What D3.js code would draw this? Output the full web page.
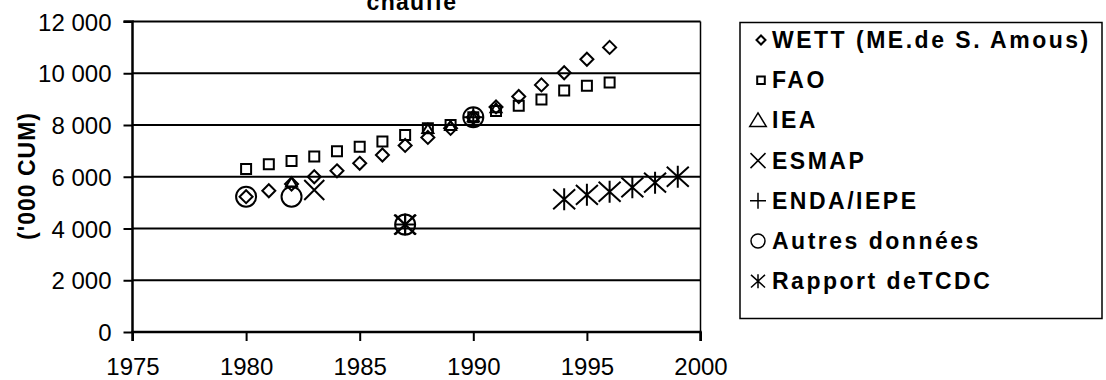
<!DOCTYPE html>
<html>
<head>
<meta charset="utf-8">
<script src="https://cdn.jsdelivr.net/npm/d3@7"></script>
<style>
  body { margin: 0; background: #fff; }
  svg { display: block; font-family: "Liberation Sans", Arial, sans-serif; }
</style>
</head>
<body>
<svg id="chart" width="1106" height="380"></svg>
<script>
// Series: consumption estimates ('000 CUM) by source and year
const seriesNames = ["WETT (ME.de S. Amous)", "FAO", "IEA", "ESMAP", "ENDA/IEPE", "Autres données", "Rapport deTCDC"];

const wettYears  = [1980, 1981, 1982, 1983, 1984, 1985, 1986, 1987, 1988, 1989, 1990, 1991, 1992, 1993, 1994, 1995, 1996];
const wettValues = [5230, 5460, 5720, 6000, 6230, 6520, 6840, 7210, 7520, 7870, 8300, 8700, 9100, 9550, 10020, 10540, 11000];

const faoYears  = [1980, 1981, 1982, 1983, 1984, 1985, 1986, 1987, 1988, 1989, 1990, 1991, 1992, 1993, 1994, 1995, 1996];
const faoValues = [6300, 6480, 6610, 6780, 6990, 7160, 7360, 7610, 7870, 8000, 8300, 8540, 8740, 8990, 9330, 9520, 9640];

const ieaYears  = [1982, 1988, 1989, 1990, 1991];
const ieaValues = [5780, 7850, 7960, 8300, 8650];

const esmapYears  = [1983, 1987];
const esmapValues = [5490, 4150];

const endaYears  = [1987, 1990];
const endaValues = [4150, 8300];

const autresYears  = [1980, 1982, 1987, 1990];
const autresValues = [5230, 5230, 4150, 8300];

const tcdcYears  = [1987, 1994, 1995, 1996, 1997, 1998, 1999];
const tcdcValues = [4150, 5130, 5300, 5420, 5590, 5770, 6000];

const xTicks = [1975, 1980, 1985, 1990, 1995, 2000];
const yTicks = [0, 2000, 4000, 6000, 8000, 10000, 12000];

const titleText = "chauffe";
const yTitle = "('000 CUM)";

// ---------------------------------------------------------------
const svg = d3.select("#chart");
const plot = { left: 132.5, right: 700.5, top: 21.5, bottom: 332 };

const x = d3.scaleLinear().domain([1975, 2000]).range([plot.left, plot.right]);
const y = d3.scaleLinear().domain([0, 12000]).range([plot.bottom, plot.top]);

const fr = d3.formatLocale({ decimal: ",", thousands: "\u00a0", grouping: [3], currency: ["", ""] });
const fmt = fr.format(",");

// marker shapes as path strings around (0,0)
const shapes = {
  diamond: s => `M0,${-s}L${s},0L0,${s}L${-s},0Z`,
  square: s => `M${-s},${-s}H${s}V${s}H${-s}Z`,
  triangle: s => `M0,${-s}L${s * 1.1},${s * 0.8}L${-s * 1.1},${s * 0.8}Z`,
  cross: s => `M${-s},${-s}L${s},${s}M${s},${-s}L${-s},${s}`,
  plus: s => `M${-s},0H${s}M0,${-s}V${s}`,
  circle: s => `M${s},0A${s},${s} 0 1,1 ${-s},0A${s},${s} 0 1,1 ${s},0Z`,
  star: s => `M${-s},${-s * 0.9}L${s},${s * 0.9}M${s},${-s * 0.9}L${-s},${s * 0.9}M0,${-s}V${s}`
};

const series = [
  { name: seriesNames[0], years: wettYears,   values: wettValues,   shape: "diamond",  size: 6.5, legendSize: 4.5 },
  { name: seriesNames[1], years: faoYears,    values: faoValues,    shape: "square",   size: 5,   legendSize: 3.8 },
  { name: seriesNames[2], years: ieaYears,    values: ieaValues,    shape: "triangle", size: 5,   legendSize: 7.5 },
  { name: seriesNames[3], years: esmapYears,  values: esmapValues,  shape: "cross",    size: 10,  legendSize: 7.5 },
  { name: seriesNames[4], years: endaYears,   values: endaValues,   shape: "plus",     size: 10,  legendSize: 8 },
  { name: seriesNames[5], years: autresYears, values: autresValues, shape: "circle",   size: 10,  legendSize: 7 },
  { name: seriesNames[6], years: tcdcYears,   values: tcdcValues,   shape: "star",     size: 11,  legendSize: 7 }
];

// horizontal gridlines
svg.append("g")
  .selectAll("line")
  .data(yTicks.filter(d => d > 0))
  .join("line")
  .attr("x1", plot.left).attr("x2", plot.right)
  .attr("y1", d => y(d)).attr("y2", d => y(d))
  .attr("stroke", "#000").attr("stroke-width", 2);

// plot frame right side
svg.append("line")
  .attr("x1", plot.right).attr("x2", plot.right)
  .attr("y1", plot.top).attr("y2", plot.bottom)
  .attr("stroke", "#000").attr("stroke-width", 1.5);

// axes
const yAxis = svg.append("g")
  .attr("transform", `translate(${plot.left},0)`)
  .call(d3.axisLeft(y).tickValues(yTicks).tickSize(9).tickPadding(12).tickFormat(fmt));
const xAxis = svg.append("g")
  .attr("transform", `translate(0,${plot.bottom})`)
  .call(d3.axisBottom(x).tickValues(xTicks).tickSize(9).tickPadding(17).tickFormat(d3.format("d")));

[yAxis, xAxis].forEach(g => {
  g.select(".domain").attr("stroke", "#000").attr("stroke-width", 2.5);
  g.selectAll(".tick line").attr("stroke", "#000").attr("stroke-width", 2);
  g.selectAll("text").attr("fill", "#000").attr("font-size", 24)
    .attr("font-family", "'Liberation Sans', Arial, sans-serif");
});
yAxis.select(".domain").attr("d", `M-9,${plot.top}H0V${plot.bottom}`);
xAxis.select(".domain").attr("d", `M${plot.left},9V0H${plot.right}V9`);
xAxis.selectAll("text").attr("dy", "0.71em");
yAxis.selectAll("text").attr("dy", "0.36em");

// markers
series.forEach(s => {
  svg.append("g")
    .selectAll("path")
    .data(s.years.map((yr, i) => [yr, s.values[i]]))
    .join("path")
    .attr("transform", d => `translate(${x(d[0])},${y(d[1])})`)
    .attr("d", shapes[s.shape](s.size))
    .attr("fill", "none")
    .attr("stroke", "#000")
    .attr("stroke-width", 2);
});

// title (second line of the heading)
svg.append("text")
  .attr("x", 412).attr("y", 10)
  .attr("text-anchor", "middle")
  .attr("font-size", 23).attr("font-weight", "bold")
  .attr("letter-spacing", "1.3px")
  .text(titleText);

// y-axis title
svg.append("text")
  .attr("transform", "translate(35,176) rotate(-90)")
  .attr("text-anchor", "middle")
  .attr("font-size", 23).attr("font-weight", "bold")
  .attr("letter-spacing", "1px")
  .text(yTitle);

// legend
const legend = svg.append("g");
legend.append("rect")
  .attr("x", 740).attr("y", 22.5).attr("width", 362).attr("height", 296)
  .attr("fill", "#fff").attr("stroke", "#000").attr("stroke-width", 1.5);

const rowY = i => 48 + i * 40.2;
const rows = legend.selectAll("g.item")
  .data(series)
  .join("g")
  .attr("class", "item");

rows.append("path")
  .attr("transform", (d, i) => `translate(${d.shape === "diamond" || d.shape === "square" ? 761 : 758},${rowY(i) - 8})`)
  .attr("d", d => shapes[d.shape](d.legendSize))
  .attr("fill", "none")
  .attr("stroke", "#000")
  .attr("stroke-width", d => d.shape === "diamond" || d.shape === "square" ? 2 : 1.5);

rows.append("text")
  .attr("x", 772)
  .attr("y", (d, i) => rowY(i))
  .attr("font-size", 23).attr("font-weight", "bold")
  .attr("letter-spacing", "2.5px")
  .text(d => d.name);
</script>
</body>
</html>
